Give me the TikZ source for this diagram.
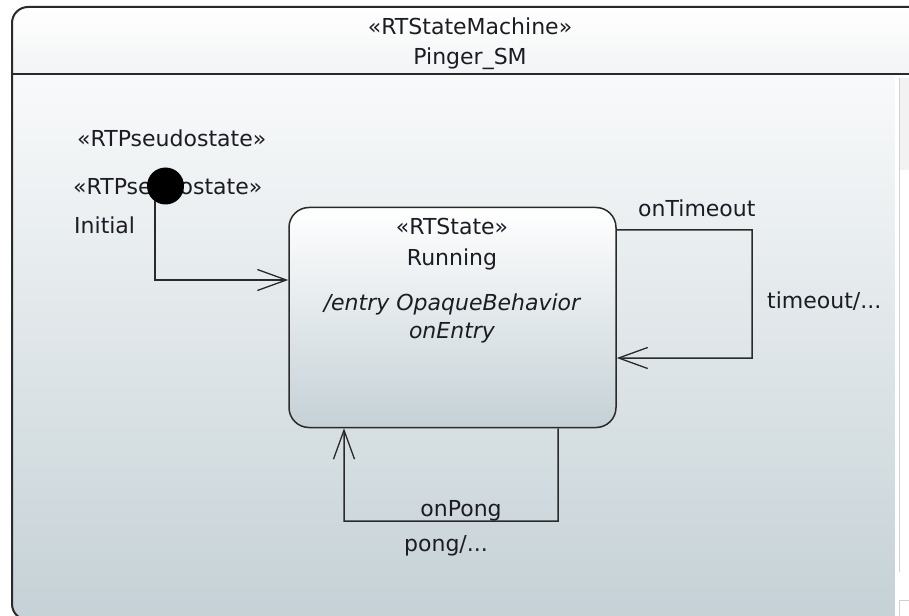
\documentclass[tikz,border=0pt]{standalone}
\usepackage{fontspec}
\setmainfont{DejaVu Sans}
\usetikzlibrary{arrows.meta}
\definecolor{ink}{HTML}{1C1C24}
\definecolor{edgecol}{HTML}{2A2A2A}
\definecolor{bodybot}{HTML}{C5D1D6}
\definecolor{hdrbot}{HTML}{F2F4F5}
\definecolor{statebot}{HTML}{C5D1D6}
\newcommand\diagfont{\fontsize{22bp}{26bp}\selectfont}
\begin{document}
\begin{tikzpicture}[x=1bp, y=-1bp,
  every node/.style={font=\diagfont, text=ink, inner sep=0pt},
  lbl/.style={text height=16bp, text depth=0bp},
  statebox/.style={draw=edgecol, line width=1.5bp, rounded corners=20bp,
    top color=white, bottom color=statebot,
    minimum width=327bp, minimum height=220bp},
  conn/.style={draw=edgecol, line width=1.5bp,
    -{Straight Barb[length=29bp, width=21bp, line width=1.3bp]}},
  framepath/.style={rounded corners=16bp}]
\useasboundingbox (0,0) rectangle (909,616);

% state machine frame: body, header and outline
\begin{scope}
  \clip (0,0) rectangle (909,616);
  \shade[framepath, top color=white, bottom color=bodybot] (12,7) rectangle (930,620);
  \begin{scope}
    \clip[framepath] (12,7) rectangle (930,620);
    \shade[top color=white, bottom color=hdrbot] (12,7) rectangle (930,74);
  \end{scope}
  \draw[framepath, draw=edgecol, line width=2bp] (12,7) rectangle (930,620);
  \draw[draw=edgecol, line width=2bp] (12,74) -- (930,74);
  % scroll bar strip on the right
  \fill[white] (895,75) rectangle (909,616);
  \fill[black!5] (899,78) rectangle (909,170);
  \draw[black!18, line width=1bp] (899,78) -- (899,572);
  \draw[black!18, line width=1bp] (899,616) |- (909,600);
\end{scope}

% header texts
\node[lbl] (stereo) at (470,27) {«RTStateMachine»};
\node[lbl] (smname) at (470,57) {Pinger\_SM};

% initial pseudostate and its labels
\node[lbl, anchor=west] (psA) at (77,139) {«RTPseudostate»};
\node[lbl, anchor=west] (psB) at (73,187) {«RTPseudostate»};
\node[lbl, anchor=west] (initname) at (74,226) {Initial};
\node[circle, fill=black, minimum size=37bp] (init) at (165.5,186) {};

% state Running
\node[statebox] (run) at (452.5,317.5) {};
\node[lbl] (runstereo) at (452,227) {«RTState»};
\node[lbl] (runname) at (452,258) {Running};
\node[lbl, font=\diagfont\itshape] (entryA) at (452,302) {/entry OpaqueBehavior};
\node[lbl, font=\diagfont\itshape] (entryB) at (452,330) {onEntry};

% transitions
\draw[conn] (init.-125) |- ([yshift=37.5bp]run.west);

\coordinate (toA) at (752,230);
\coordinate (toB) at (752,358);
\draw[conn] ([yshift=87.5bp]run.east) -- (toA) -- (toB) -- ([yshift=-40.5bp]run.east);
\node[lbl, anchor=west] (tmname) at (638,209) {onTimeout};
\node[lbl, anchor=west] (tmtrig) at (767,300) {timeout/...};

\coordinate (pgA) at (558,521);
\coordinate (pgB) at (344,521);
\draw[conn] ([xshift=105.5bp]run.south) -- (pgA) -- (pgB) -- ([xshift=-108.5bp]run.south);
\node[lbl] (pgname) at (461,508) {onPong};
\node[lbl] (pgtrig) at (446,543) {pong/...};
\end{tikzpicture}
\end{document}
